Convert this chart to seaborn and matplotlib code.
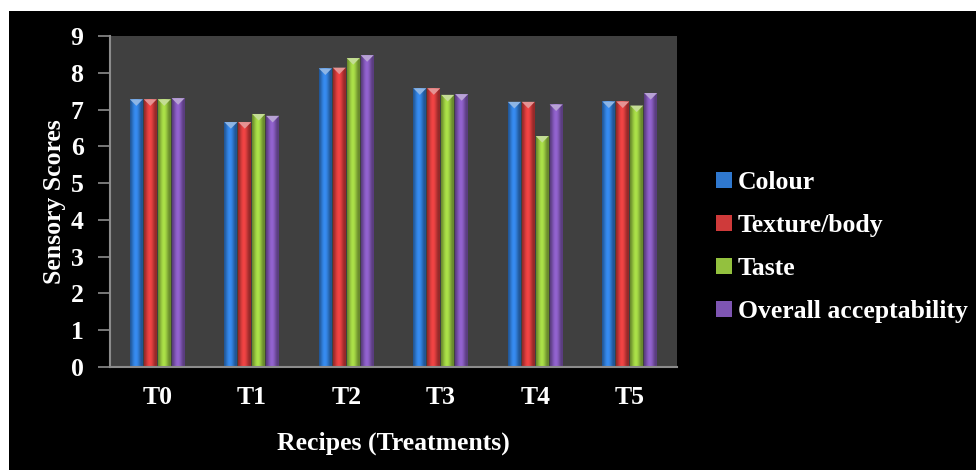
import numpy as np
import pandas as pd
import matplotlib
matplotlib.use("Agg")
import matplotlib.pyplot as plt
import matplotlib.colors as mcolors
from matplotlib.patches import Patch, Polygon, Rectangle
import seaborn as sns

# Sensory evaluation scores per recipe
recipes = ["T0", "T1", "T2", "T3", "T4", "T5"]
attributes = ["Colour", "Texture/body", "Taste", "Overall acceptability"]
colour_scores = [7.28, 6.66, 8.12, 7.58, 7.21, 7.22]
texture_scores = [7.28, 6.66, 8.14, 7.58, 7.21, 7.22]
taste_scores = [7.28, 6.88, 8.40, 7.40, 6.28, 7.11]
overall_scores = [7.31, 6.83, 8.48, 7.42, 7.14, 7.45]
y_ticks = list(range(0, 10))

palette = ["#2F78CF", "#CF3A3A", "#93C13E", "#7E55B2"]

series = [colour_scores, texture_scores, taste_scores, overall_scores]
df = pd.DataFrame(
    [(r, a, v) for a, vals in zip(attributes, series) for r, v in zip(recipes, vals)],
    columns=["Recipe", "Attribute", "Score"],
)

sns.set_theme(style="dark")
plt.rcParams["font.family"] = ["Liberation Serif", "DejaVu Serif"]
plt.rcParams["font.weight"] = "bold"

W, H = 976, 470
fig = plt.figure(figsize=(W / 100, H / 100), dpi=100)
fig.patch.set_facecolor("white")
# black panel behind the chart
fig.patches.append(Rectangle((9 / W, 0), 1 - 9 / W, (H - 11) / H,
                             transform=fig.transFigure, facecolor="black",
                             edgecolor="none", zorder=-10))

ax = fig.add_axes([110 / W, (H - 367) / H, (677 - 110) / W, (367 - 36) / H])
ax.set_zorder(1)
ax.set_facecolor("#404040")

sns.barplot(data=df, x="Recipe", y="Score", hue="Attribute", order=recipes,
            hue_order=attributes, palette=palette, saturation=1, width=0.59,
            gap=0.07, legend=False, ax=ax, edgecolor="none", linewidth=0)

# cylinder-like shading and a lighter cap on each bar
xs = np.linspace(0, 1, 40)
shade = 0.72 + 0.45 * np.sin(np.pi * np.clip(xs * 1.1, 0, 1)) ** 1.5
for patch in list(ax.patches):
    base = np.array(mcolors.to_rgb(patch.get_facecolor()))
    x0, y0 = patch.get_x(), patch.get_y()
    w, h = patch.get_width(), patch.get_height()
    if h <= 0:
        continue
    row = np.clip(base[None, :] * shade[:, None], 0, 1)
    img = np.repeat(row[None, :, :], 2, axis=0)
    im = ax.imshow(img, extent=(x0, x0 + w, y0, y0 + h), aspect="auto",
                   interpolation="bilinear", zorder=patch.get_zorder() + 0.1)
    im.set_clip_path(patch)
    cap_h = 0.18
    light = np.clip(base + (1 - base) * 0.45, 0, 1)
    tri = Polygon([(x0, y0 + h), (x0 + w, y0 + h), (x0 + w / 2, y0 + h - cap_h)],
                  closed=True, facecolor=light, edgecolor="none",
                  zorder=patch.get_zorder() + 0.2)
    ax.add_patch(tri)

ax.set_xlim(-0.5, len(recipes) - 0.5)
ax.set_ylim(0, 9)
ax.set_yticks(y_ticks)
ax.grid(False)

text_kw = dict(color="white", fontweight="bold")
ax.set_xlabel("Recipes (Treatments)", fontsize=18.5, labelpad=16, **text_kw)
ax.set_ylabel("Sensory Scores", fontsize=18.5, labelpad=3, **text_kw)
ax.tick_params(axis="y", colors="#8C8C8C", length=9, width=1.2, direction="out",
               labelsize=18.5, labelcolor="white", pad=10, left=True)
ax.tick_params(axis="x", length=0, labelsize=18.5, labelcolor="white", pad=14)
for lab in ax.get_xticklabels() + ax.get_yticklabels():
    lab.set_fontweight("bold")

for side in ["top", "right"]:
    ax.spines[side].set_visible(False)
for side in ["left", "bottom"]:
    ax.spines[side].set_visible(True)
    ax.spines[side].set_color("#8C8C8C")
    ax.spines[side].set_linewidth(1.5)

handles = [Patch(facecolor=c, edgecolor="none", label=a) for c, a in zip(palette, attributes)]
leg = fig.legend(handles=handles, loc="center left",
                 bbox_to_anchor=(706 / W, (H - 247) / H), frameon=False,
                 fontsize=18.5, handlelength=0.6, handleheight=0.6,
                 handletextpad=0.25, labelspacing=0.78, borderaxespad=0)
for t in leg.get_texts():
    t.set_color("white")
    t.set_fontweight("bold")

fig.savefig("out.png", dpi=100, facecolor=fig.get_facecolor())
